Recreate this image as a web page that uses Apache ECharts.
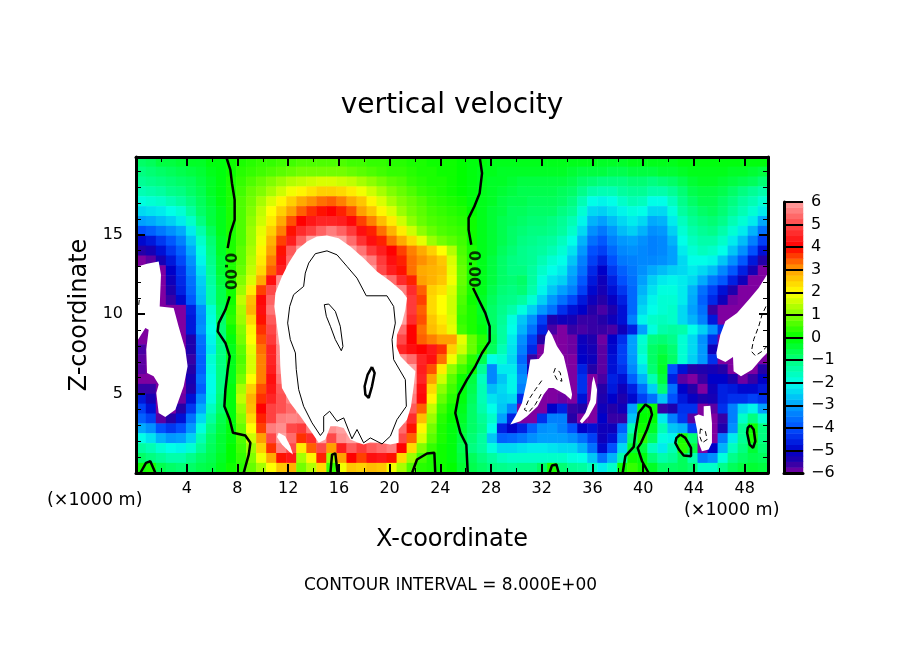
<!DOCTYPE html>
<html>
<head>
<meta charset="utf-8">
<title>vertical velocity</title>
<script src="https://cdn.jsdelivr.net/npm/echarts@6/dist/echarts.min.js"></script>
<style>
html, body { margin: 0; padding: 0; background: #fff; }
#main { width: 904px; height: 654px; }
</style>
</head>
<body>
<div id="main"></div>
<script>
// vertical velocity, top row first, +-7 means beyond the colour table
var velocity = [
[-.8,-.7,-.5,-.5,-.4,-.3,-.3,-.1,-.1,.1,.2,.3,.4,.4,.5,.5,.6,.6,.6,.6,.6,.5,.5,.4,.4,.3,.3,.2,.2,.1,.1,.1, 0,-.1,-.1,-.2,-.2,-.2,-.2,-.2,-.2,-.2,-.2,-.2,-.2,-.2,-.3,-.3,-.3,-.2,-.2,-.2,-.2,-.2,-.1,-.1,-.1,-.1,-.1,-.1,-.1,-.1,-.1],
[-1,-.9,-.8,-.7,-.6,-.5,-.4,-.2,-.1,.1,.3,.4,.5,.6,.7,.8,.9,.9,.9,.9,.9,.8,.7,.6,.5,.4,.4,.3,.2,.2,.1,.1, 0,-.1,-.2,-.2,-.3,-.3,-.3,-.3,-.3,-.3,-.3,-.4,-.5,-.5,-.5,-.6,-.6,-.5,-.5,-.5,-.4,-.4,-.3,-.2,-.2,-.2,-.2,-.3,-.3,-.4,-.5],
[-1.2,-1.1,-1,-.9,-.8,-.7,-.5,-.3,-.1,.2,.4,.6,.8,1,1.2,1.4,1.5,1.6,1.7,1.7,1.6,1.5,1.3,1.1,.9,.7,.6,.4,.3,.2,.2,.1, 0,-.1,-.2,-.3,-.3,-.4,-.5,-.5,-.5,-.5,-.5,-.6,-.8,-.9,-1,-1,-1,-.9,-.9,-1,-.9,-.8,-.6,-.4,-.3,-.3,-.4,-.5,-.6,-.7,-.9],
[-1.5,-1.4,-1.3,-1.1,-1,-.8,-.6,-.3,-.1,.2,.5,.8,1,1.3,1.6,1.9,2.1,2.3,2.5,2.5,2.4,2.2,1.9,1.6,1.3,1,.8,.6,.4,.3,.2,.1, 0,-.1,-.2,-.3,-.4,-.5,-.6,-.6,-.6,-.6,-.7,-.8,-1.1,-1.4,-1.5,-1.5,-1.3,-1.2,-1.2,-1.4,-1.4,-1.2,-.9,-.6,-.5,-.5,-.6,-.8,-1,-1.2,-1.4],
[-1.9,-1.8,-1.7,-1.5,-1.3,-1,-.7,-.4,-.1,.2,.6,.9,1.3,1.7,2.1,2.5,2.9,3.1,3.3,3.4,3.2,2.9,2.6,2.1,1.7,1.3,1,.8,.6,.4,.3,.2, .1,-.1,-.2,-.3,-.5,-.6,-.6,-.7,-.7,-.7,-.8,-1,-1.5,-2,-2.1,-2,-1.7,-1.5,-1.6,-2,-2,-1.6,-1.1,-.8,-.6,-.6,-.8,-1,-1.3,-1.5,-1.8],
[-2.4,-2.3,-2.2,-2,-1.8,-1.3,-.8,-.5,-.2,.2,.6,1,1.5,2,2.5,3,3.4,3.7,3.9,4,3.8,3.5,3,2.6,2.1,1.7,1.2,.9,.7,.5,.4,.3, .2,0,-.2,-.4,-.5,-.7,-.7,-.8,-.8,-.8,-1,-1.2,-1.8,-2.4,-2.5,-2.3,-2.1,-1.9,-2,-2.4,-2.4,-1.9,-1.3,-1,-.8,-.7,-.9,-1.2,-1.5,-1.8,-2.2],
[-3,-2.9,-2.7,-2.5,-2.2,-1.7,-1,-.5,-.2,.2,.6,1.1,1.6,2.2,2.9,3.5,4,4.3,4.5,4.5,4.4,4.1,3.6,3.2,2.7,2.2,1.6,1.1,.8,.6,.5,.4, .3,.1,-.2,-.4,-.6,-.7,-.8,-.9,-.9,-1,-1.2,-1.5,-2.1,-2.8,-3,-2.7,-2.4,-2.2,-2.4,-2.9,-2.8,-2.2,-1.6,-1.2,-1,-.9,-1.1,-1.5,-1.8,-2.2,-2.9],
[-4,-3.8,-3.5,-3.2,-2.9,-2.2,-1.4,-.7,-.2,.2,.6,1.2,1.8,2.5,3.2,3.9,4.6,4.9,5.3,5.6,5.3,4.8,4.2,3.8,3.3,2.8,2.2,1.6,1.1,.8,.6,.5, .4,.1,-.2,-.4,-.6,-.8,-.9,-1,-1,-1.1,-1.3,-1.7,-2.4,-3.2,-3.5,-3.1,-2.7,-2.5,-2.8,-3.2,-3.1,-2.5,-1.8,-1.4,-1.2,-1.1,-1.4,-1.8,-2.2,-2.8,-3.6],
[-4.9,-4.7,-4.3,-3.9,-3.4,-2.6,-1.7,-.9,-.3,.2,.6,1.2,1.9,2.8,3.6,4.4,5.3,7,7,7,6,5.4,4.7,4.2,3.8,3.3,2.9,2.4,1.8,1.2,.9,.7, .5,.1,-.2,-.4,-.6,-.8,-1,-1.1,-1.2,-1.3,-1.6,-2,-2.8,-3.6,-3.9,-3.4,-3.1,-3,-3.2,-3.4,-3.3,-2.8,-2,-1.6,-1.4,-1.4,-1.7,-2.2,-2.7,-3.4,-4.2],
[-5.5,-5.3,-4.8,-4.3,-3.8,-2.9,-1.9,-1,-.3,.2,.7,1.3,2.1,3,3.9,5.2,7,7,7,7,7,7,5.5,4.8,4.4,4,3.6,3.2,2.9,2.5,2,1.4, .6,.2,-.2,-.4,-.7,-.9,-1.1,-1.2,-1.3,-1.5,-1.8,-2.3,-3.1,-4,-4.2,-3.7,-3.3,-3.2,-3.3,-3.4,-3.3,-3,-2.2,-1.8,-1.6,-1.7,-2,-2.6,-3.2,-4,-4.8],
[-6,-5.8,-5.3,-4.7,-4.1,-3.2,-2.1,-1.1,-.4,.2,.7,1.4,2.2,3.2,4.2,5.4,7,7,7,7,7,7,7,5.6,4.8,4.2,3.8,3.3,3.1,2.9,2.6,1.7, .7,.2,-.2,-.5,-.8,-1,-1.1,-1.2,-1.5,-1.8,-2,-2.6,-3.4,-4.2,-4.6,-4,-3.5,-3.4,-3.3,-3.3,-3.2,-3,-2.4,-2,-2,-2.1,-2.6,-3.2,-3.9,-4.7,-5.5],
[-7,-7,-6,-5,-4.4,-3.4,-2.3,-1.2,-.4,.2,.8,1.5,2.4,3.4,4.4,5.8,7,7,7,7,7,7,7,6,5,4.4,3.9,3.3,2.9,2.8,2.7,1.8, .8,.2,-.2,-.5,-.8,-1,-1,-1.3,-1.7,-2,-2.2,-2.9,-3.6,-4.5,-5,-4.3,-3.8,-3.5,-3.2,-2.9,-2.7,-2.5,-2.4,-2.2,-2.4,-2.7,-3.3,-3.9,-4.6,-5.3,-6],
[-7,-7,-6,-5.2,-4.5,-3.6,-2.5,-1.3,-.5,.2,1,1.7,2.9,4.2,5.8,7,7,7,7,7,7,7,7,7,7,5.4,4.6,3.8,3,2.8,2.6,1.9, .8,.2,-.2,-.5,-.8,-.9,-.8,-1.3,-1.9,-2.3,-2.5,-3.1,-3.9,-4.7,-5.2,-4.6,-4,-3.6,-3,-2.5,-2.2,-2.1,-2.2,-2.4,-2.9,-3.5,-3.9,-4.6,-5.2,-6,-7],
[-7,-7,-6,-5.4,-4.6,-3.7,-2.6,-1.4,-.6,.1,1.2,2.2,3.6,5,7,7,7,7,7,7,7,7,7,7,7,7,5.6,4.6,3.4,2.5,2.3,1.7, .7,.2,-.2,-.6,-.9,-1,-.9,-1.4,-2.1,-2.6,-3,-3.4,-4.2,-4.9,-5.3,-4.8,-4.3,-3.7,-2.8,-2.3,-1.9,-1.9,-2.2,-2.8,-3.6,-4.2,-4.8,-5.4,-6,-7,-7],
[-7,-7,-6,-5.6,-4.9,-3.9,-2.7,-1.4,-.6,.1,1.5,2.7,4.1,5.3,7,7,7,7,7,7,7,7,7,7,7,7,6,4.8,3.6,2.4,2,1.6, .6,.1,-.3,-.7,-1,-1.1,-1.3,-1.8,-2.5,-3.1,-3.6,-4.1,-4.7,-5.2,-5.5,-5.1,-4.6,-3.7,-2.6,-2.1,-1.8,-1.8,-2.2,-2.9,-3.8,-4.5,-5.2,-5.9,-6,-7,-7],
[-7,-7,-7,-7,-6,-4.6,-3.2,-1.8,-.7,.2,1.3,2.8,4.2,5.5,7,7,7,7,7,7,7,7,7,7,7,7,7,4.8,3.4,2.4,2,1.6, .5,.2,-.3,-.8,-1.1,-1.4,-1.9,-2.5,-3.1,-3.6,-4.4,-4.8,-5,-5.5,-5.7,-5.4,-4.8,-3.7,-2.4,-2,-1.8,-1.7,-2.4,-3,-3.6,-5.6,-6,-6,-7,-7,-7],
[-7,-7,-7,-7,-6,-4.7,-3.3,-1.9,-.8,.3,1.2,2.4,3.9,5.2,7,7,7,7,7,7,7,7,7,7,7,7,7,4.6,3.5,2.6,2.2,1.7, .4,.2,-.2,-.8,-1.2,-1.9,-2.6,-3.2,-4.2,-5.4,-5.2,-5.3,-5.6,-5.6,-5.5,-5.2,-4.8,-3.4,-2.1,-1.7,-1.6,-1.7,-2.4,-2.8,-3.4,-4.7,-6,-7,-7,-7,-7],
[-6,-7,-7,-7,-6,-4.7,-3.2,-2,-.9,.1,1,2.1,3.7,5,7,7,7,7,7,7,7,7,7,7,7,7,5.4,4,3.3,2.7,2.4,1.8, .5,.2,-.1,-.7,-1.3,-2,-2.8,-3.6,-4.6,-5.7,-6,-5.6,-5.7,-5.6,-5.6,-5.7,-5.2,-4.6,-3,-1.9,-1.4,-1.3,-1.4,-2,-2.5,-3.2,-4.4,-6,-7,-7,-7],
[-6,-7,-7,-7,-7,-5.4,-3.6,-2.1,-1,-.1,.9,2,3.5,4.8,6,7,7,7,7,7,7,7,7,7,7,7,5,4,3.4,3.2,3,3, 1.8,.8,.3,-.6,-1.3,-2.2,-3.2,-4.2,-5.5,-7,-6,-5.9,-5.2,-5.4,-5.9,-5,-4.4,-3,-1.8,-1,-.9,-1.1,-1.8,-2.4,-3.2,-4.4,-6,-7,-7,-7,-7],
[-5.7,-7,-7,-7,-7,-5.4,-3.7,-2.2,-1,-.2,.7,1.8,3.3,4.5,5.8,7,7,7,7,7,7,7,7,7,7,6,4.5,4.2,4,4.3,3.7,2.5, 1.6,.8,.2,-.7,-1.5,-2.3,-3.4,-4.5,-6,-7,-7,-5.9,-5.1,-5.3,-5.8,-4.9,-4.2,-3,-1.7,-.8,-.6,-.9,-1.8,-2.4,-3.1,-5.2,-7,-7,-7,-7,-7],
[-5.8,-7,-7,-7,-7,-5.6,-3.8,-1.8,-1,-.2,.6,1.7,3.2,4.5,5.8,7,7,7,7,7,7,7,7,7,7,7,5.8,5.4,4.5,4.2,3.3,1.9, 1,.3,-.6,-2,-1.8,-2.4,-3.7,-5.6,-7,-7,-7,-6,-5,-5.2,-5.8,-4.8,-4.2,-3.1,-1.9,-.8,-.4,-.8,-1.8,-2.5,-3.1,-4.4,-6,-6,-7,-7,-7],
[-5.8,-7,-7,-7,-7,-5.5,-3.8,-1.9,-1,-.2,.7,1.7,3.2,4.4,5.7,7,7,7,7,7,7,7,7,7,7,7,7,6,4.4,3.5,2.2,1.1, .5,.1,-1.2,-3.3,-2.2,-2.2,-3.4,-5.2,-7,-7,-7,-6,-4.6,-5.5,-5.8,-4.8,-4.4,-3.3,-2.3,-.9,-.3,-4,-4.8,-5.5,-5.4,-5.3,-5.5,-6,-7,-6,-5.5],
[-6,-6,-7,-7,-7,-5.3,-3.6,-2,-1,-.2,.9,2,3.2,4.2,5.5,7,7,7,7,7,7,7,7,7,7,7,7,7,4.5,3,1.6,.7, .1,-.5,-1.6,-3.3,-2.6,-2.1,-3.2,-7,-7,-7,-7,-6,-4.4,-6,-5.7,-4.6,-4.8,-3.8,-2.8,-1.5,-.5,-4.6,-5.8,-6,-5.6,-5,-5,-5.4,-5.9,-5.6,-5],
[-5.6,-5.6,-6,-7,-7,-5.4,-3.8,-2,-1,-.1,1.3,2.5,3.5,4.3,5.2,6,7,7,7,7,7,7,7,7,7,7,7,5.8,4.2,2.4,1.1,.5, -.1,-.6,-1.5,-2.7,-2.4,-2.1,-3.4,-5,-7,-7,-7,-7,-4.4,-7,-5.5,-4.7,-5.2,-4.6,-3.6,-2.5,-.9,-3.6,-5,-5.5,-6,-5.2,-4.6,-4.7,-4.9,-4.9,-4.7],
[-4.7,-5.3,-7,-7,-5.9,-4.8,-3.3,-1.9,-.9,-.1,1.5,2.8,3.7,4.5,5.1,5.7,7,7,7,7,7,7,7,7,7,7,7,5.6,4.1,2.1,.8,.3, -.1,-.7,-1.5,-2.3,-2.5,-2.4,-4.5,-7,-7,-6,-5.9,-6,-4.8,-7,-5.4,-5,-5.4,-4.9,-4.2,-3.6,-2.6,-4,-4.7,-5.1,-5.4,-5.3,-4.6,-4.4,-4.4,-4.2,-4.4],
[-4.2,-4.8,-7,-7,-5.5,-4.3,-2.9,-1.6,-.8,-.1,1.2,2.7,4,4.9,5.1,5.4,7,7,7,7,7,7,7,7,7,7,7,5.2,3.4,1.5,.5,.1, -.2,-.8,-1.4,-2,-2.6,-3.3,-7,-7,-6,-5,-4.6,-5.6,-5.5,-7,-5.2,-5.5,-5.2,-3,-.1,.1,-5.6,-5.4,-4.4,-4.4,-7,-5.8,-4.4,-3.4,-2.4,-2.1,-3],
[-3.8,-4.2,-5.8,-5.5,-4.8,-3.6,-2.4,-1.3,-.6,-.1,1,2.4,3.8,4.9,5.6,5.7,5.6,7,7,7,7,7,7,7,7,7,5.8,4.6,2.7,1.2,.3,0, -.3,-.8,-1.2,-1.7,-3,-4.6,-7,-6,-4.4,-3.4,-3.4,-5.5,-7,-6,-5,-5.6,-5.6,-2.6,0,0,-2.2,-3.4,-4.3,-5.8,-7,-7,-5.6,-3.4,-1.7,-1,-1.8],
[-2.9,-3.2,-4,-4.3,-4,-3.1,-1.9,-1,-.5,-.1,.8,2,3.6,5.6,5.8,5,4.8,5.6,7,5.8,7,7,7,7,7,7,5.4,3.9,2.1,.9,.2,-.1, -.4,-.8,-1.1,-2,-4.6,-5,-4.6,-3.8,-3.2,-3.1,-3.4,-4,-5,-4.8,-5.2,-5.2,-3.8,-1.5,.1,-.3,-1.5,-2.6,-2.8,-4.2,-7,-7,-5.4,-3.2,-1.2,.1,-1],
[-2,-2.3,-2.8,-3.1,-3,-2.5,-1.5,-.8,-.4,-.1,.6,1.6,3,5,7,5.4,3.7,4.6,7,5,5.8,7,7,7,7,7,5,3.4,1.7,.7,.2,-.1, -.5,-.9,-1.3,-2.6,-3.8,-3.7,-3.5,-3.2,-3,-3,-3,-3.2,-3.6,-4.2,-5.2,-4.8,-3.2,-.9,.3,-.7,-1.9,-2.1,.2,-.9,-7,-7,-3.5,-2.2,-1.2,.2,-1],
[-1.3,-1.5,-1.8,-2,-2.1,-1.8,-1.2,-.7,-.4,0,.5,1.2,2.5,3.7,5.6,5,2.2,3.4,5,3,4.4,5.2,4.8,5.2,5.4,5.6,4,2.4,1,.4,.1,-.1, -.6,-1,-1.3,-1.9,-2.4,-2.4,-2.3,-2.2,-2.2,-2.3,-2.4,-2.4,-2.8,-3.6,-4.9,-4,-2.4,-.4,-.5,-1.6,-2.2,-1.5,.3,-.5,-6,-5,-2.8,-1.6,-1,-.4,-.9],
[-.8,-1,-1.2,-1.4,-1.4,-1.1,-.8,-.6,-.3,0,.4,1,1.9,2.9,3.9,4.3,1.3,2.1,3.8,1.2,3,4,3.6,4.2,4.3,3.9,2.4,1.2,.5,.2,.1,-.1, -.5,-.7,-1,-1.3,-1.6,-1.7,-1.7,-1.7,-1.7,-1.7,-1.7,-1.9,-2,-2.6,-3.6,-2.8,-1.4,.1,-.1,-.9,-1.4,-1.2,-.7,-1.4,-3.5,-3.2,-1.9,-1.1,-.8,-.6,-.7],
[.1,.2,-.6,-.8,-.9,-.8,-.6,-.5,-.2,.1,.3,.8,1.3,2,2.6,2.8,.9,1.4,2.4,.4,1.9,2.6,2.5,2.7,2.6,1.9,1.3,.6,.3,.2,.1,0, -.4,-.6,-.8,-1,-1.1,-1.2,-1.1,-1.1,-.8,.2,-.9,-1.2,-1.3,-1.6,-2.2,-1.7,.1,.4,.1,-.3,-.8,-.8,-.7,-.9,-1.7,-1.7,-1.1,-.7,-.5,-.4,-.5]
];

// colour table of the bar, one stop per half unit from -6 to 6
var levelColors = ['#7f00a0', '#2400a8', '#0000c8', '#0028e8', '#0050ff', '#0078ff', '#00a0ff', '#00d0f4', '#00ffe8', '#00ffb4', '#00ff80', '#00ff40', '#00ff00', '#40ff00', '#80ff00', '#c0ff00', '#ffff00', '#ffd000', '#ffa000', '#ff5000', '#ff0000', '#ff2424', '#ff4848', '#ff7474', '#ffa0a0'];
var barLevels = [-5.875,-5.625,-5.375,-5.125,-4.875,-4.625,-4.375,-4.125,-3.875,-3.625,-3.375,-3.125,-2.875,-2.625,-2.375,-2.125,-1.875,-1.625,-1.375,-1.125,-.875,-.625,-.375,-.125,.125,.375,.625,.875,1.125,1.375,1.625,1.875,2.125,2.375,2.625,2.875,3.125,3.375,3.625,3.875,4.125,4.375,4.625,4.875,5.125,5.375,5.625,5.875];

// regions beyond the colour table, left white, outlines as [x km, z km]
var whiteCentre = [[15.06,14.96],[15.98,14.79],[16.9,14.27],[17.95,13.53],[19,12.69],[20.06,12.07],[20.98,11.44],[21.37,11.02],[21.24,10.28],[20.98,9.44],[20.58,8.71],[20.53,7.98],[20.85,7.35],[21.5,6.82],[22.03,6.4],[21.9,5.46],[21.69,4.2],[21.37,3.36],[20.71,2.74],[20.71,1.9],[20.06,1.79],[19.27,1.9],[18.48,1.94],[17.95,1.79],[17.43,1.94],[16.9,2.11],[16.38,2.84],[15.85,2.95],[15.33,2.95],[14.93,2.11],[14.41,1.9],[13.88,2.53],[12.96,3.57],[12.17,4.41],[11.51,5.36],[11.38,6.72],[11.33,7.98],[11.12,9.23],[10.91,10.49],[10.99,11.33],[11.51,12.38],[12.04,13.22],[12.7,14.06],[13.49,14.58],[14.27,14.9]];
var whiteSpot = [[11.25,2.53],[11.77,2.32],[12.17,1.68],[12.38,1.16],[12.04,1.37],[11.51,1.79],[11.12,2.27]];
var whiteLeft = [[0,12.97],[.87,13.18],[1.79,13.32],[1.97,12.48],[1.87,10.49],[2.97,10.39],[3.36,9.23],[3.89,7.77],[4.07,6.72],[3.76,5.46],[3.1,3.99],[2.31,3.53],[1.79,3.78],[1.6,5.04],[1.79,5.57],[1.39,6.09],[.87,6.3],[.81,7.77],[1,9.02],[.74,9.13],[.08,8.29],[0,8.29]];
var whiteRight = [[49.84,12.6],[49.76,12.48],[49.1,11.65],[48.32,10.91],[47.4,10.07],[46.48,9.55],[46.08,8.71],[45.77,7.56],[45.82,7.24],[46.48,6.99],[47.08,7.31],[47.13,6.4],[47.71,6.09],[48.58,6.51],[49.37,7.24],[49.76,7.56],[49.84,7.56]];
var whiteMid = [[32.54,9.02],[32.8,8.71],[33.2,7.98],[33.73,7.35],[34.04,6.3],[34.39,4.94],[34.31,4.62],[33.86,4.94],[32.93,5.36],[32.54,5.36],[32.15,4.94],[31.68,4.2],[30.84,3.57],[30.31,3.26],[29.52,3.05],[29.92,3.57],[30.44,4.41],[30.79,5.67],[31.1,7.14],[31.76,7.18],[32.15,7.56],[32.28,8.61]];
var whiteNarrow = [[36.09,6.09],[36.36,5.25],[36.28,4.41],[35.7,3.57],[35.17,3.11],[35,3.26],[35.44,3.78],[35.83,4.62],[35.96,5.67]];
var whiteLow = [[44.77,4.2],[45.29,4.24],[45.42,3.15],[45.42,1.9],[45.16,1.48],[44.63,1.37],[44.37,1.9],[44.24,2.74],[44.03,3.57],[44.37,3.68],[44.77,3.57]];
var whiteRegions = [whiteCentre, whiteSpot, whiteLeft, whiteRight, whiteMid, whiteNarrow, whiteLow];

// contours as [x km, z km]
var zeroLeftUpper = [[7.12,19.9],[7.44,19.09],[7.57,18.25],[7.78,17.2],[7.78,15.94],[7.44,15.1],[7.23,14.16]];
var zeroLeftLower = [[7.39,11.12],[7.05,10.28],[6.52,9.44],[6.44,8.92],[7.05,8.19],[7.39,7.35],[7.23,6.51],[7.05,5.25],[6.97,4.2],[7.39,3.37],[7.65,2.53],[8.62,2.36],[9.02,1.9],[8.89,1.16],[8.49,0]];
var zeroMidUpper = [[27.1,19.9],[27.29,18.88],[27.1,17.62],[26.68,16.78],[26.23,16.05],[26.23,15.31],[26.44,14.37]];
var zeroMidLower = [[26.58,11.65],[27.03,10.91],[27.55,10.07],[27.89,9.24],[27.89,8.29],[27.29,7.56],[26.76,6.72],[26.1,5.88],[25.45,4.94],[25.18,3.78],[25.58,2.53],[26.05,1.79],[26.16,0]];
var zeroCornerLoop = [[.34,0],[.79,.64],[1.13,.74],[1.53,0]];
var zeroFinger = [[15.33,0],[15.46,1.16],[15.72,1.23],[15.9,0]];
var zeroBump = [[21.77,0],[22.16,.85],[22.95,1.23],[23.53,1.27],[23.6,0]];
var zeroBottomSmall = [[32.6,0],[32.8,.47],[33.15,.54],[33.34,0]];
var zeroLobe = [[38.38,0],[38.59,1.06],[39.25,1.65],[39.38,2.53],[39.64,3.78],[40.17,4.31],[40.56,4.1],[40.69,3.68],[40.3,2.74],[39.83,1.9],[39.56,1.58],[39.91,.74],[40.43,0]];
var zeroOvalA = [[42.93,2.42],[43.32,2.21],[43.77,1.58],[43.77,1.06],[43.19,1.1],[42.81,1.48],[42.53,1.9],[42.62,2.21],[42.93,2.42]];
var zeroOvalB = [[48.45,3.01],[48.71,2.74],[48.84,2],[48.66,1.58],[48.39,1.79],[48.19,2.53],[48.24,2.84],[48.45,3.01]];
var thickOval = [[18.61,6.68],[18.82,6.3],[18.61,5.46],[18.35,4.73],[18.09,4.94],[18.03,5.46],[18.27,6.2],[18.61,6.68]];
var plusOuter = [[14.54,2.36],[13.88,3.16],[13.22,4.2],[12.83,5.25],[12.64,6.51],[12.57,7.56],[12.17,8.4],[11.96,9.44],[12.12,10.49],[12.43,11.23],[13.22,11.75],[13.35,12.59],[13.62,13.22],[14.14,13.81],[15.06,13.99],[15.85,13.74],[16.64,13.01],[17.43,12.27],[18.16,11.16],[19.79,11.16],[20.32,10.49],[20.45,9.44],[20.19,8.4],[20.32,7.14],[21.24,5.88],[21.32,4.2],[20.58,3.36],[20.06,2.32],[19.4,1.83],[18.48,2.21],[17.95,1.9],[17.43,2.74],[17.03,2.15],[16.38,3.47],[15.85,3.26],[15.27,3.89],[14.8,3.57],[14.8,2.63],[14.54,2.36]];
var plusInner = [[14.85,10.6],[15.2,10.64],[15.72,10.18],[16.11,9.24],[16.32,7.97],[16.19,7.7],[15.72,8.4],[15.33,9.24],[15.01,9.87],[14.85,10.6]];
var minusEdge = [[.26,10.9],[.2,10.5]];
var minusRight = [[49.68,10.49],[49.37,9.97],[49.11,9.24],[48.71,8.4],[48.53,7.66],[48.84,7.39],[49.37,7.66],[49.77,7.98]];
var minusMidLong = [[32,5.82],[31.49,5.25],[30.97,4.62],[30.63,3.99],[30.97,3.83],[31.49,4.31],[32,5.04]];
var minusMidSmall = [[33.07,6.61],[32.93,6.3],[33.2,5.88],[33.59,5.78],[33.46,6.3],[33.2,6.55]];
var minusLow = [[44.51,2.78],[44.45,2.32],[44.65,1.9],[45.04,2.11],[44.9,2.63],[44.51,2.78]];
var zeroLabels = [[7.36,12.7],[26.58,12.85]];

var thick = [zeroLeftUpper, zeroLeftLower, zeroMidUpper, zeroMidLower, zeroCornerLoop, zeroFinger, zeroBump, zeroBottomSmall, zeroLobe, zeroOvalA, zeroOvalB, thickOval];
var thin = [plusOuter, plusInner];
var dashed = [minusEdge, minusRight, minusMidLong, minusMidSmall, minusLow];

var FONT = '"DejaVu Sans", sans-serif';
var myChart = echarts.init(document.getElementById('main'));

var cells = [];
velocity.forEach(function (row, i) {
    row.forEach(function (v, j) {
        cells.push([j, velocity.length - 1 - i, v]);
    });
});
var barCells = barLevels.map(function (v, i) { return [0, i, v]; });

function contourSeries(line, width, type) {
    return {
        type: 'line', xAxisIndex: 1, yAxisIndex: 1, data: line, symbol: 'none', silent: true, z: 4,
        lineStyle: { color: '#000', width: width, type: type }
    };
}

var series = [
    { type: 'heatmap', xAxisIndex: 0, yAxisIndex: 0, data: cells, silent: true, z: 2 },
    { type: 'heatmap', xAxisIndex: 3, yAxisIndex: 3, data: barCells, silent: true, z: 2 },
    {
        type: 'custom', xAxisIndex: 1, yAxisIndex: 1, silent: true, z: 3, clip: true,
        data: whiteRegions.map(function (r) { return r[0]; }),
        renderItem: function (params, api) {
            return {
                type: 'polygon',
                shape: { points: whiteRegions[params.dataIndex].map(function (p) { return api.coord(p); }) },
                style: { fill: '#fff' }
            };
        }
    },
    {
        type: 'scatter', xAxisIndex: 1, yAxisIndex: 1, data: zeroLabels, symbolSize: 0, silent: true, z: 5,
        label: { show: true, position: 'inside', formatter: '0.00', rotate: -90, color: '#000', fontFamily: FONT, fontSize: 15, fontWeight: 'bold' }
    }
];
thick.forEach(function (c) { series.push(contourSeries(c, 2.5, 'solid')); });
thin.forEach(function (c) { series.push(contourSeries(c, 1, 'solid')); });
dashed.forEach(function (c) { series.push(contourSeries(c, 1, [5, 3])); });

var frame = { onZero: false, lineStyle: { color: '#000', width: 3 } };
var inTick = { inside: true, length: 9, lineStyle: { color: '#000', width: 2 } };

function range(n) {
    var a = [];
    for (var k = 0; k < n; k++) a.push(k);
    return a;
}

myChart.setOption({
    animation: false,
    backgroundColor: '#fff',
    title: {
        text: 'vertical velocity', left: 447, top: 87, textAlign: 'center',
        textStyle: { color: '#000', fontFamily: FONT, fontSize: 28, fontWeight: 'normal' }
    },
    grid: [
        { left: 136, top: 157, width: 632, height: 316 },
        { left: 784, top: 202, width: 19, height: 271 }
    ],
    visualMap: {
        show: false, type: 'continuous', min: -6, max: 6, dimension: 2, seriesIndex: [0, 1],
        inRange: { color: levelColors }
    },
    xAxis: [
        { type: 'category', gridIndex: 0, data: range(velocity[0].length), show: false },
        {
            type: 'value', gridIndex: 0, position: 'bottom', min: 0, max: 49.84, interval: 4, z: 6, splitLine: { show: false },
            axisLine: frame, axisTick: inTick, minorTick: { show: true, splitNumber: 2, length: 5, lineStyle: { color: '#000', width: 1 } },
            axisLabel: { color: '#000', fontFamily: FONT, fontSize: 16, margin: 8, showMaxLabel: false, showMinLabel: false },
            name: 'X-coordinate', nameLocation: 'middle', nameGap: 55,
            nameTextStyle: { color: '#000', fontFamily: FONT, fontSize: 24 }
        },
        {
            type: 'value', gridIndex: 0, position: 'top', min: 0, max: 49.84, interval: 4, z: 6, splitLine: { show: false },
            axisLine: frame, axisTick: inTick, minorTick: { show: true, splitNumber: 2, length: 5, lineStyle: { color: '#000', width: 1 } },
            axisLabel: { show: false }
        },
        {
            type: 'category', gridIndex: 1, data: [0], z: 6, axisLine: frame, axisTick: { show: false }, axisLabel: { show: false }
        }
    ],
    yAxis: [
        { type: 'category', gridIndex: 0, data: range(velocity.length), show: false },
        {
            type: 'value', gridIndex: 0, position: 'left', min: 0, max: 19.9, interval: 5, z: 6, splitLine: { show: false },
            axisLine: frame, axisTick: inTick, minorTick: { show: true, splitNumber: 5, length: 5, lineStyle: { color: '#000', width: 1 } },
            axisLabel: { color: '#000', fontFamily: FONT, fontSize: 16, margin: 13, showMaxLabel: false, showMinLabel: false },
            name: 'Z-coordinate', nameLocation: 'middle', nameGap: 33, nameRotate: 90,
            nameTextStyle: { color: '#000', fontFamily: FONT, fontSize: 24 }
        },
        {
            type: 'value', gridIndex: 0, position: 'right', min: 0, max: 19.9, interval: 5, z: 6, splitLine: { show: false },
            axisLine: frame, axisTick: inTick, minorTick: { show: true, splitNumber: 5, length: 5, lineStyle: { color: '#000', width: 1 } },
            axisLabel: { show: false }
        },
        {
            type: 'category', gridIndex: 1, data: range(barLevels.length), z: 6, axisLine: frame, axisTick: { show: false }, axisLabel: { show: false }
        },
        {
            type: 'value', gridIndex: 1, position: 'right', min: -6, max: 6, interval: 1, z: 6,
            axisLine: frame, axisTick: { show: false },
            splitLine: { show: true, lineStyle: { color: '#000', width: 2 } },
            axisLabel: {
                color: '#000', fontFamily: FONT, fontSize: 16, margin: 8,
                formatter: function (v) { return String(v).replace('-', '\u2212'); }
            }
        }
    ],
    graphic: [
        { type: 'text', left: 47, top: 491, style: { text: '(\u00d71000 m)', fontFamily: FONT, fontSize: 17.5, fill: '#000' } },
        { type: 'text', left: 684, top: 501, style: { text: '(\u00d71000 m)', fontFamily: FONT, fontSize: 17.5, fill: '#000' } },
        { type: 'text', left: 304, top: 577, style: { text: 'CONTOUR INTERVAL = 8.000E+00', fontFamily: FONT, fontSize: 17, fill: '#000' } }
    ],
    series: series
});
</script>
</body>
</html>
